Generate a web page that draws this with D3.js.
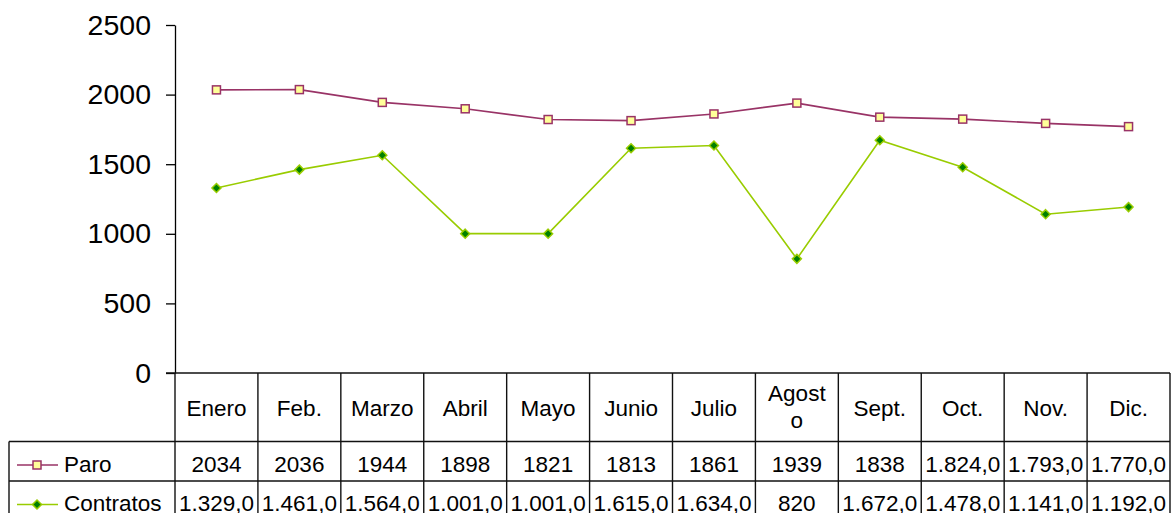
<!DOCTYPE html>
<html>
<head>
<meta charset="utf-8">
<script src="https://cdn.jsdelivr.net/npm/d3@7"></script>
<style>
  html, body { margin: 0; padding: 0; background: #fff; }
  svg { display: block; font-family: "Liberation Sans", Arial, sans-serif; }
</style>
</head>
<body>
<svg id="chart" width="1172" height="513"></svg>
<script>
const months = ["Enero", "Feb.", "Marzo", "Abril", "Mayo", "Junio", "Julio", "Agosto", "Sept.", "Oct.", "Nov.", "Dic."];
const paro = [2034, 2036, 1944, 1898, 1821, 1813, 1861, 1939, 1838, 1824, 1793, 1770];
const contratos = [1329, 1461, 1564, 1001, 1001, 1615, 1634, 820, 1672, 1478, 1141, 1192];
// Table text exactly as printed (the source mixes number formats).
const paroLabels = ["2034", "2036", "1944", "1898", "1821", "1813", "1861", "1939", "1838", "1.824,0", "1.793,0", "1.770,0"];
const contratosLabels = ["1.329,0", "1.461,0", "1.564,0", "1.001,0", "1.001,0", "1.615,0", "1.634,0", "820", "1.672,0", "1.478,0", "1.141,0", "1.192,0"];
const yTicks = [0, 500, 1000, 1500, 2000, 2500];

const PARO_COLOR = "#993366";
const PARO_FILL = "#ffff99";
const CONTR_COLOR = "#99cc00";
const CONTR_FILL = "#008000";

// Geometry of plot + data table below it.
const PLOT = { left: 175, right: 1170, top: 25, bottom: 373 };
const LEGEND_LEFT = 9;
const HEADER_BOTTOM = 441.5;
const ROW_H = 39.5;
const TABLE_FONT = 22.5;

const svg = d3.select("#chart");

const x = d3.scaleBand().domain(months).range([PLOT.left, PLOT.right]);
const y = d3.scaleLinear().domain([0, 2500]).range([PLOT.bottom, PLOT.top]);

// Y axis
const yAxis = svg.append("g")
    .attr("transform", `translate(${PLOT.left},0)`)
    .call(d3.axisLeft(y)
        .tickValues(yTicks)
        .tickFormat(d3.format("d"))
        .tickSize(9)
        .tickPadding(15)
        .tickSizeOuter(0));
yAxis.select(".domain").attr("stroke", "#000").attr("stroke-width", 1.3);
yAxis.selectAll(".tick line").attr("stroke", "#000").attr("stroke-width", 1.3);
yAxis.selectAll(".tick text")
    .attr("font-size", 28.5)
    .attr("font-family", "Liberation Sans, Arial, sans-serif")
    .attr("fill", "#000");

// Series lines + markers
const line = d3.line().x((d, i) => x(months[i]) + x.bandwidth() / 2).y((d) => y(d));

svg.append("path")
    .datum(paro)
    .attr("fill", "none")
    .attr("stroke", PARO_COLOR)
    .attr("stroke-width", 1.6)
    .attr("d", line);

svg.append("path")
    .datum(contratos)
    .attr("fill", "none")
    .attr("stroke", CONTR_COLOR)
    .attr("stroke-width", 1.6)
    .attr("d", line);

function squareMarker(g, cx, cy) {
    g.append("rect")
        .attr("x", cx - 4).attr("y", cy - 4)
        .attr("width", 8).attr("height", 8)
        .attr("fill", PARO_FILL)
        .attr("stroke", PARO_COLOR)
        .attr("stroke-width", 1.5);
}

function diamondMarker(g, cx, cy) {
    const r = 4.5;
    g.append("path")
        .attr("d", `M${cx},${cy - r}L${cx + r},${cy}L${cx},${cy + r}L${cx - r},${cy}Z`)
        .attr("fill", CONTR_FILL)
        .attr("stroke", CONTR_COLOR)
        .attr("stroke-width", 1.5);
}

const gMarkers = svg.append("g");
paro.forEach((v, i) => squareMarker(gMarkers, x(months[i]) + x.bandwidth() / 2, y(v)));
contratos.forEach((v, i) => diamondMarker(gMarkers, x(months[i]) + x.bandwidth() / 2, y(v)));

// Data table
const gTable = svg.append("g")
    .attr("stroke", "#111")
    .attr("stroke-width", 1.4);

const rowTops = [HEADER_BOTTOM, HEADER_BOTTOM + ROW_H];
const tableBottom = HEADER_BOTTOM + 2 * ROW_H + 10;

// horizontal rules
gTable.append("line").attr("x1", PLOT.left - 9).attr("x2", PLOT.right).attr("y1", PLOT.bottom).attr("y2", PLOT.bottom);
rowTops.forEach((t) => {
    gTable.append("line").attr("x1", LEGEND_LEFT).attr("x2", PLOT.right).attr("y1", t).attr("y2", t);
});
// vertical rules
months.forEach((m) => {
    gTable.append("line").attr("x1", x(m)).attr("x2", x(m)).attr("y1", PLOT.bottom).attr("y2", tableBottom);
});
gTable.append("line").attr("x1", PLOT.right).attr("x2", PLOT.right).attr("y1", PLOT.bottom).attr("y2", tableBottom);
gTable.append("line").attr("x1", LEGEND_LEFT).attr("x2", LEGEND_LEFT).attr("y1", HEADER_BOTTOM).attr("y2", tableBottom);

// header cells, wrapping words that are too wide for the cell
const gText = svg.append("g")
    .attr("font-size", TABLE_FONT)
    .attr("fill", "#000")
    .attr("text-anchor", "middle");

const maxHeaderWidth = 66;
months.forEach((m) => {
    const cx = x(m) + x.bandwidth() / 2;
    const t = gText.append("text").attr("x", cx).attr("y", 415.5).text(m);
    if (t.node().getComputedTextLength() > maxHeaderWidth) {
        let cut = m.length;
        while (cut > 1) {
            t.text(m.slice(0, cut));
            if (t.node().getComputedTextLength() <= maxHeaderWidth) break;
            cut--;
        }
        t.text(null).attr("y", null);
        t.append("tspan").attr("x", cx).attr("y", 401).text(m.slice(0, cut));
        t.append("tspan").attr("x", cx).attr("y", 428).text(m.slice(cut));
    }
});

const rows = [
    { name: "Paro", labels: paroLabels, marker: squareMarker, color: PARO_COLOR },
    { name: "Contratos", labels: contratosLabels, marker: diamondMarker, color: CONTR_COLOR },
];

rows.forEach((row, r) => {
    const base = rowTops[r] + 30;
    row.labels.forEach((lab, i) => {
        gText.append("text")
            .attr("x", x(months[i]) + x.bandwidth() / 2)
            .attr("y", base)
            .text(lab);
    });
    // legend key
    const ly = base - 6.5;
    svg.append("line")
        .attr("x1", 17).attr("x2", 58).attr("y1", ly).attr("y2", ly)
        .attr("stroke", row.color).attr("stroke-width", 1.6);
    row.marker(svg, 37, ly);
    svg.append("text")
        .attr("x", 64).attr("y", base)
        .attr("font-size", TABLE_FONT)
        .attr("fill", "#000")
        .text(row.name);
});
</script>
</body>
</html>
